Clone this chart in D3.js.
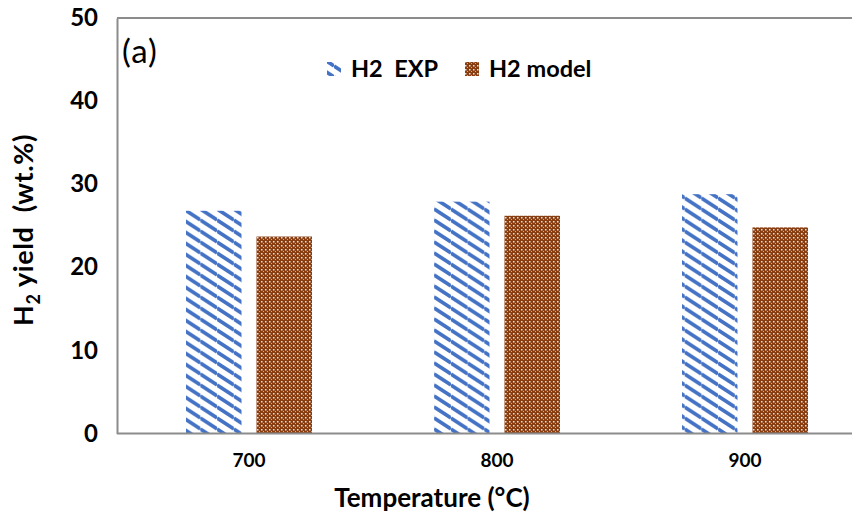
<!DOCTYPE html>
<html>
<head>
<meta charset="utf-8">
<script src="https://cdn.jsdelivr.net/npm/d3@7"></script>
<style>
	body { margin: 0; background: #fff; }
	text { font-family: Lato, "Open Sans", sans-serif; fill: #000; }
</style>
</head>
<body>
<div id="chart"></div>
<script>
// values
const temps = ["700", "800", "900"];
const h2Exp = [26.8, 27.9, 28.8];
const h2Model = [23.7, 26.2, 24.8];
const yTicks = [0, 10, 20, 30, 40, 50];
const seriesNames = ["H2  EXP", "H2 model"];

const W = 852, H = 517;
const plotLeft = 117, plotTop = 18, plotBottom = 433.5;

const svg = d3.select("#chart").append("svg")
	.attr("width", W)
	.attr("height", H);

// patterns: blue diagonal stripes, brown woven texture
const defs = svg.append("defs");
const pw = 16.7, ph = 11;
const stripes = defs.append("pattern")
	.attr("id", "pat_exp")
	.attr("patternUnits", "userSpaceOnUse")
	.attr("width", pw)
	.attr("height", ph);
stripes.append("rect").attr("width", pw).attr("height", ph).attr("fill", "#fff");
stripes.append("path")
	.attr("d", `M0,${-ph} L${pw},0 M0,0 L${pw},${ph} M0,${ph} L${pw},${2 * ph}`)
	.attr("stroke", "#4472c4")
	.attr("stroke-width", 3.6);

const weave = defs.append("pattern")
	.attr("id", "pat_model")
	.attr("patternUnits", "userSpaceOnUse")
	.attr("width", 4)
	.attr("height", 4);
weave.append("rect").attr("width", 4).attr("height", 4).attr("fill", "#8a3d0f");
weave.append("rect").attr("x", 1).attr("y", 1).attr("width", 1.5).attr("height", 1.5).attr("fill", "#fff").attr("opacity", 0.85);
weave.append("rect").attr("x", 3).attr("y", 3).attr("width", 1).attr("height", 1).attr("fill", "#f3d9c4").attr("opacity", 0.7);

// scales
const x = d3.scaleBand().domain(temps).range([125, 869]).padding(0);
const xs = d3.scaleBand().domain(["exp", "model"]).range([61, 187]).paddingInner(0.213).paddingOuter(0);
const y = d3.scaleLinear().domain([0, 50]).range([plotBottom, plotTop]);

// frame (top border, cropped on the right)
svg.append("line")
	.attr("x1", plotLeft).attr("x2", W)
	.attr("y1", plotTop).attr("y2", plotTop)
	.attr("stroke", "#8c8c8c").attr("stroke-width", 2);

// bars
const rows = temps.map((t, i) => ({ t: t, exp: h2Exp[i], model: h2Model[i] }));
const g = svg.append("g");
["exp", "model"].forEach(k => {
	g.selectAll(".bar_" + k)
		.data(rows)
		.enter()
		.append("rect")
		.attr("class", "bar_" + k)
		.attr("x", d => x(d.t) + xs(k))
		.attr("width", xs.bandwidth())
		.attr("y", d => y(d[k]))
		.attr("height", d => plotBottom - y(d[k]))
		.attr("fill", `url(#pat_${k})`);
});

// y axis
const yAxis = svg.append("g")
	.attr("transform", `translate(${plotLeft},0)`)
	.call(d3.axisLeft(y).tickValues(yTicks).tickSize(0).tickPadding(19));
yAxis.select(".domain").attr("stroke", "#8c8c8c").attr("stroke-width", 2);
yAxis.selectAll("text")
	.style("font-family", "Lato, sans-serif")
	.style("font-size", "24px")
	.style("font-weight", "bold")
	.attr("fill", "#000");

// x axis
const xAxis = svg.append("g")
	.attr("transform", `translate(0,${plotBottom})`)
	.call(d3.axisBottom(x).tickSize(0).tickPadding(20));
xAxis.select(".domain").attr("d", `M${plotLeft},0 H${W}`).attr("stroke", "#8c8c8c").attr("stroke-width", 2.2);
xAxis.selectAll("text")
	.style("font-family", "Lato, sans-serif")
	.style("font-size", "19px")
	.style("font-weight", "bold")
	.attr("fill", "#000");

// axis titles
svg.append("text")
	.attr("x", 432).attr("y", 507)
	.attr("text-anchor", "middle")
	.style("font-size", "26px")
	.style("font-weight", "bold")
	.text("Temperature (°C)");

const yt = svg.append("text")
	.attr("transform", "translate(33,230) rotate(-90)")
	.attr("text-anchor", "middle")
	.style("font-size", "27px")
	.style("font-weight", "bold")
	.style("letter-spacing", "0.6px");
yt.append("tspan").text("H");
yt.append("tspan").attr("dy", 7).style("font-size", "18px").text("2");
yt.append("tspan").attr("dy", -7).attr("xml:space", "preserve").text(" yield  (wt.%)");

// panel tag
svg.append("text")
	.attr("x", 122).attr("y", 63)
	.style("font-size", "33px")
	.style("letter-spacing", "1px")
	.text("(a)");

// legend
const legend = svg.append("g");
const legX = [327, 465];
seriesNames.forEach((name, i) => {
	legend.append("rect")
		.attr("x", legX[i]).attr("y", 62)
		.attr("width", 14).attr("height", 14)
		.attr("fill", i == 0 ? "url(#pat_exp)" : "url(#pat_model)");
	legend.append("text")
		.attr("x", legX[i] + 24).attr("y", 77)
		.attr("xml:space", "preserve")
		.style("font-size", "23.5px")
		.style("font-weight", "bold")
		.text(name);
});
</script>
</body>
</html>
